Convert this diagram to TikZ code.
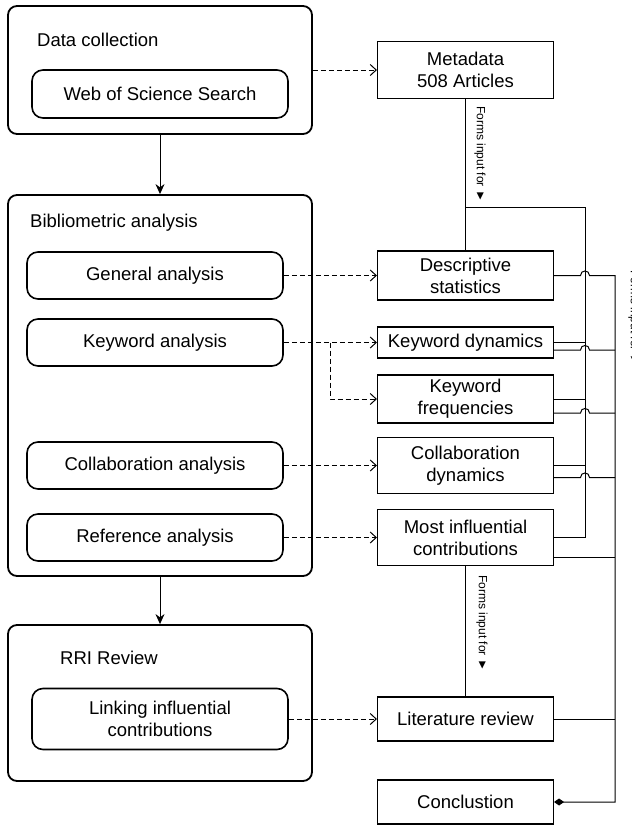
\documentclass[tikz,border=0pt]{standalone}
\usepackage{fontspec}
\setmainfont{Liberation Sans}
\usetikzlibrary{arrows.meta}

\begin{document}
\begin{tikzpicture}[x=1pt, y=-1pt,
  every node/.style={font=\fontsize{18.5}{22}\selectfont, align=center, inner sep=0pt},
  grp/.style={draw, line width=1.8pt, rounded corners=9pt, minimum width=304pt},
  sub/.style={draw, line width=1.6pt, rounded corners=11pt, minimum width=256pt},
  res/.style={draw, line width=1.1pt, minimum width=176pt},
  title/.style={anchor=west},
  small/.style={font=\fontsize{12}{14}\selectfont, rotate=-90, anchor=west},
  wire/.style={line width=1pt},
  flow/.style={line width=1pt, -{Stealth[length=10pt,width=9pt]}},
  dashto/.style={line width=1pt, dash pattern=on 5pt off 3pt, -{Straight Barb[length=6pt,width=11pt]}}]

  \useasboundingbox (0,0) rectangle (632,825);

  % left column
  \node[grp, minimum height=128pt] (dcol) at (160,70) {};
  \node[title] (dcoltxt) at (37,40) {Data collection};
  \node[sub, minimum height=48pt] (wos) at (160,94) {Web of Science Search};

  \node[grp, minimum height=381pt] (bib) at (160,385.5) {};
  \node[title] (bibtxt) at (30,223) {Bibliometric analysis};
  \node[sub, minimum height=47pt] (gen) at (155,275.5) {General analysis};
  \node[sub, minimum height=47pt] (kwa) at (155,342.5) {Keyword analysis};
  \node[sub, minimum height=47pt] (cola) at (155,465.5) {Collaboration analysis};
  \node[sub, minimum height=47pt] (refa) at (155,537.5) {Reference analysis};

  \node[grp, minimum height=156pt] (rri) at (160,703) {};
  \node[title] (rritxt) at (60,658) {RRI Review};
  \node[sub, minimum height=61pt] (link) at (160,719) {Linking influential\\contributions};

  % right column
  \node[res, minimum height=57pt] (meta) at (465.5,70) {Metadata\\508 Articles};
  \node[res, minimum height=49pt] (dstat) at (465.5,275.5) {Descriptive\\statistics};
  \node[res, minimum height=31pt] (kdyn) at (465.5,342.5) {Keyword dynamics};
  \node[res, minimum height=48pt] (kfreq) at (465.5,399) {Keyword\\frequencies};
  \node[res, minimum height=56pt] (cdyn) at (465.5,465.5) {Collaboration\\dynamics};
  \node[res, minimum height=56pt] (mic) at (465.5,537.5) {Most influential\\contributions};
  \node[res, minimum height=44pt] (lit) at (465.5,719) {Literature review};
  \node[res, minimum height=44pt] (concl) at (465.5,802) {Conclustion};

  \node[small] (in1) at (480,106) {Forms input for ►};
  \node[small] (in2) at (482,575) {Forms input for ►};
  \node[small] (in3) at (634,270) {Forms input for ►};

  \coordinate (busA) at (585,207);
  \coordinate (busB) at (615,275);
  \coordinate (hl) at (580.5,0);
  \coordinate (hr) at (589.5,0);
  \coordinate (kbr) at (330,0);

  % main flow
  \draw[flow] (dcol.south) -- (bib.north);
  \draw[flow] (bib.south) -- (rri.north);

  % outputs
  \draw[dashto] (dcol.east) -- (meta.west);
  \draw[dashto] (gen.east) -- (dstat.west);
  \draw[dashto] (kwa.east) -- (kdyn.west);
  \draw[dashto] (kwa.east -| kbr) -- (kfreq.west -| kbr) -- (kfreq.west);
  \draw[dashto] (cola.east) -- (cdyn.west);
  \draw[dashto] (refa.east) -- (mic.west);
  \draw[dashto] (link.east) -- (lit.west);

  % inputs
  \draw[wire] (meta.south) -- (dstat.north);
  \draw[wire] (meta.south |- busA) -- (busA) -- (busA |- mic.east) -- (mic.east);
  \draw[wire] (mic.south) -- (lit.north);
  \draw[wire] (kdyn.east) -- (kdyn.east -| busA);
  \draw[wire] (kfreq.east) -- (kfreq.east -| busA);
  \draw[wire] (cdyn.east) -- (cdyn.east -| busA);

  \draw[wire, -{Diamond[length=10pt,width=7pt]}] (dstat.east) -- (dstat.east -| hl)
    .. controls +(0,-6) and +(0,-6) .. (dstat.east -| hr) -- (dstat.east -| busB)
    -- (busB |- concl.east) -- (concl.east);
  \draw[wire] ([yshift=-7.5pt]kdyn.east) coordinate (kd2) -- (kd2 -| hl)
    .. controls +(0,-6) and +(0,-6) .. (kd2 -| hr) -- (kd2 -| busB);
  \draw[wire] ([yshift=-14pt]kfreq.east) coordinate (kf2) -- (kf2 -| hl)
    .. controls +(0,-6) and +(0,-6) .. (kf2 -| hr) -- (kf2 -| busB);
  \draw[wire] ([yshift=-12pt]cdyn.east) coordinate (cd2) -- (cd2 -| hl)
    .. controls +(0,-6) and +(0,-6) .. (cd2 -| hr) -- (cd2 -| busB);
  \draw[wire] ([yshift=-20pt]mic.east) coordinate (mc2) -- (mc2 -| busB);
  \draw[wire] (lit.east) -- (lit.east -| busB);
\end{tikzpicture}
\end{document}
